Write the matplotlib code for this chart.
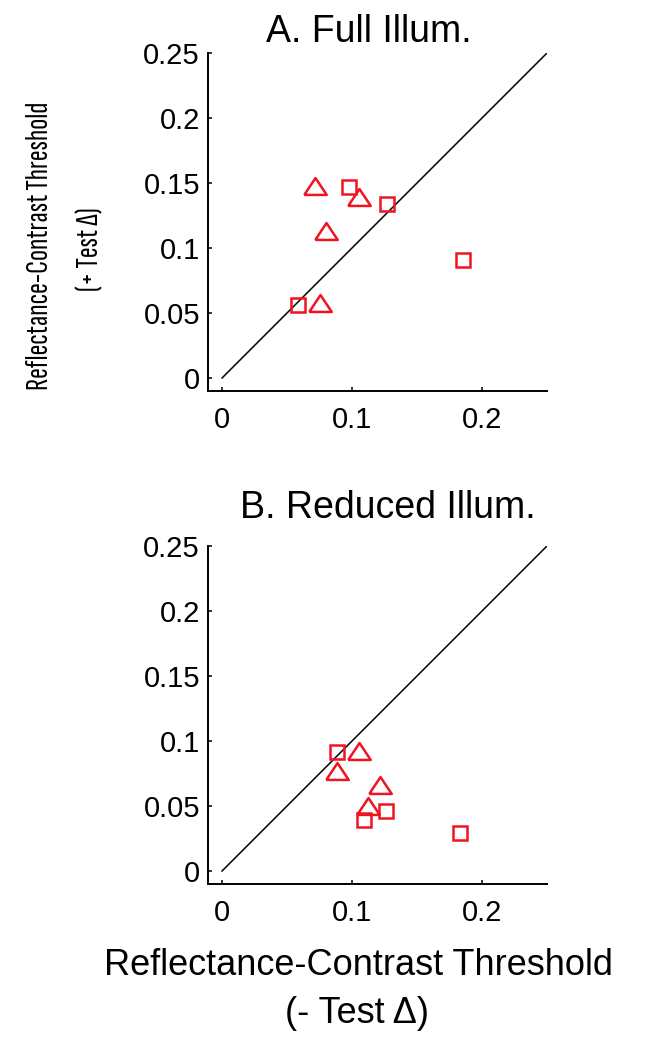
import matplotlib
matplotlib.use("Agg")
import matplotlib.pyplot as plt
from matplotlib import font_manager

# ---------------- data ----------------
ticks_x = [0, 0.1, 0.2]
ticks_x_labels = ["0", "0.1", "0.2"]
ticks_y = [0, 0.05, 0.1, 0.15, 0.2, 0.25]
ticks_y_labels = ["0", "0.05", "0.1", "0.15", "0.2", "0.25"]

# Panel A: Full illumination
a_tri_x = [0.0715, 0.105, 0.080, 0.0757]
a_tri_y = [0.148, 0.139, 0.113, 0.058]
a_sq_x = [0.098, 0.1267, 0.1857, 0.0585]
a_sq_y = [0.1467, 0.134, 0.0908, 0.0564]

# Panel B: Reduced illumination
b_tri_x = [0.105, 0.0882, 0.1215, 0.1125]
b_tri_y = [0.0925, 0.0767, 0.0664, 0.050]
b_sq_x = [0.0887, 0.1095, 0.126, 0.183]
b_sq_y = [0.0913, 0.0395, 0.0464, 0.0292]

diag = [0, 0.25]

titles = ["A. Full Illum.", "B. Reduced Illum."]
xlabel_lines = ["Reflectance-Contrast Threshold", "(- Test \u0394)"]
ylabel_lines = ["Reflectance-Contrast Threshold", "(+ Test \u0394)"]

# ---------------- style ----------------
installed = {f.name for f in font_manager.fontManager.ttflist}
main_font = [f for f in ["Liberation Sans", "DejaVu Sans"] if f in installed] or ["DejaVu Sans"]
narrow_font = [f for f in ["Sofia Sans Extra Condensed", "Liberation Sans", "DejaVu Sans"] if f in installed]
narrow_size = 23.4 if narrow_font[0] == "Sofia Sans Extra Condensed" else 15
plt.rcParams["font.family"] = main_font

W, H = 658, 1050
DPI = 100
fig = plt.figure(figsize=(W / DPI, H / DPI), dpi=DPI)

def px_axes(left, top, right, bottom):
    return [left / W, 1 - bottom / H, (right - left) / W, (bottom - top) / H]

panels = [
    (px_axes(208, 53, 547, 391), a_tri_x, a_tri_y, a_sq_x, a_sq_y, titles[0], 369, 42),
    (px_axes(208, 546, 547, 884), b_tri_x, b_tri_y, b_sq_x, b_sq_y, titles[1], 388, 518),
]

tri_marker = [(-1, -0.75), (1, -0.75), (0, 0.75), (-1, -0.75)]
red = "#f01420"

for rect, tx, ty, sx, sy, title, tcx, tby in panels:
    ax = fig.add_axes(rect)
    ax.plot(diag, diag, color="black", lw=1.1, zorder=1)
    ax.plot(tx, ty, linestyle="none", marker=tri_marker, markersize=16.2,
            markerfacecolor="none", markeredgecolor=red, markeredgewidth=1.8, zorder=3)
    ax.plot(sx, sy, linestyle="none", marker="s", markersize=10.3,
            markerfacecolor="none", markeredgecolor=red, markeredgewidth=1.8, zorder=3)
    ax.set_xlim(-0.0108, 0.25)
    ax.set_ylim(-0.0100, 0.25)
    ax.set_xticks(ticks_x)
    ax.set_xticklabels(ticks_x_labels)
    ax.set_yticks(ticks_y)
    ax.set_yticklabels(ticks_y_labels)
    for s in ["top", "right"]:
        ax.spines[s].set_visible(False)
    for s in ["left", "bottom"]:
        ax.spines[s].set_linewidth(1.4)
    ax.tick_params(axis="both", direction="in", length=3, width=1.1, labelsize=21)
    ax.tick_params(axis="y", pad=5.8)
    ax.tick_params(axis="x", pad=11)
    fig.text(tcx / W, 1 - tby / H, title, ha="center", va="baseline", fontsize=27)

# shared x label (two lines)
fig.text(358 / W, 1 - 975 / H, xlabel_lines[0], ha="center", va="baseline", fontsize=26)
fig.text(357 / W, 1 - 1023 / H, xlabel_lines[1], ha="center", va="baseline", fontsize=26)

# shared y label (two lines, condensed face)
fig.text(40 / W, 1 - 246 / H, ylabel_lines[0], ha="center", va="center", rotation=90,
         fontsize=narrow_size, family=narrow_font)
fig.text(90 / W, 1 - 249 / H, ylabel_lines[1], ha="center", va="center", rotation=90,
         fontsize=narrow_size, family=narrow_font)

fig.savefig("out.png", dpi=DPI, facecolor="white")
